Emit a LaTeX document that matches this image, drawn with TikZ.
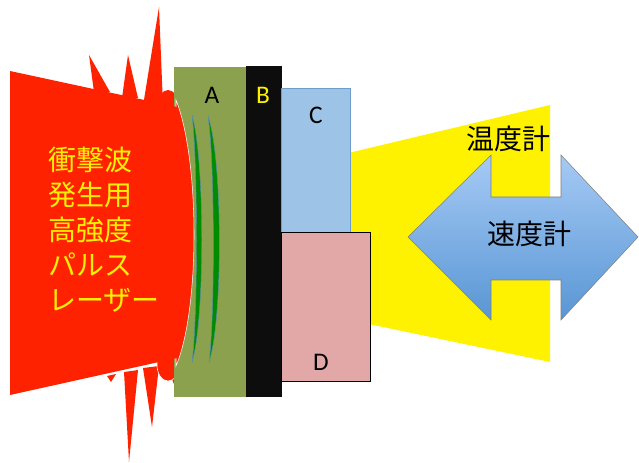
\documentclass[tikz,border=0pt]{standalone}
\usepackage{fontspec}
\setmainfont{Carlito}
\newfontfamily\jpfont{Noto Sans CJK JP}
\usepackage{tikz}

\definecolor{laserred}{RGB}{255,34,0}
\definecolor{layerA}{RGB}{139,161,77}
\definecolor{layerB}{RGB}{13,13,13}
\definecolor{layerC}{RGB}{157,195,230}
\definecolor{layerD}{RGB}{226,168,168}
\definecolor{shockgreen}{RGB}{0,140,0}
\definecolor{shockedge}{RGB}{91,140,190}
\definecolor{arrowtop}{RGB}{166,202,245}
\definecolor{arrowbot}{RGB}{88,150,212}

\tikzset{
  spike/.style={fill=laserred, draw=none},
  label/.style={inner sep=0.75pt, font=\fontsize{19}{19}\selectfont},
  jplabel/.style={inner sep=0.75pt, font=\jpfont\fontsize{21}{26.25}\selectfont}
}

\begin{document}
\begin{tikzpicture}[x=0.75pt,y=0.75pt,yscale=-1,xscale=1]
    \useasboundingbox (0,0) rectangle (639,463);

    %Shape: Yellow beam
    \fill [yellow]  (340,155) -- (550,105) -- (550,362) -- (340,318) -- cycle ;

    %Shape: Spikes behind the laser
    \fill [spike]  (94,92) -- (89,55) -- (110,92) -- cycle ;
    \fill [spike]  (122,98) -- (128,55) -- (138,98) -- cycle ;
    \fill [spike]  (143,106) -- (159,7) -- (163,106) -- cycle ;
    \fill [spike]  (124,372) -- (129,462) -- (138,370) -- cycle ;
    \fill [spike]  (143,368) -- (152,427) -- (159,366) -- cycle ;
    \fill [spike]  (107,376) -- (111,382) -- (116,374) -- cycle ;
    \fill [spike]  (166,362) -- (176,390) -- (177,358) -- cycle ;
    \fill [spike]  (168,108) ellipse (11 and 18) ;
    \draw [white, fill=laserred]  (168,365) ellipse (11 and 16) ;

    %Shape: Layer A
    \fill [layerA]  (174,67) rectangle (246,397) ;
    %Shape: Layer B
    \fill [layerB]  (246,66) rectangle (282,397) ;
    %Shape: Layer C
    \draw [shockedge!70!layerC, fill=layerC]  (281,88) rectangle (350,232) ;
    %Shape: Layer D
    \draw [black, fill=layerD]  (281,232) rectangle (370,381) ;

    %Shape: Laser bulge
    \draw [white, fill=laserred]  (176,100) .. controls (200,160) and (200,310) .. (176,366) -- cycle ;
    %Shape: Laser beam
    \fill [laserred]  (10,71) -- (177,107) -- (177,358) -- (10,395) -- cycle ;

    %Curve Lines: shock fronts
    \draw [shockedge, fill=shockgreen, line width=0.3pt]  (192,115) .. controls (205,160) and (205,320) .. (192,362) .. controls (198,320) and (198,160) .. cycle ;
    \draw [shockedge, fill=shockgreen, line width=0.3pt]  (208,116) .. controls (223,160) and (223,320) .. (209,362) .. controls (215,320) and (215,160) .. cycle ;

    %Shape: Double arrow
    \draw [gray, top color=arrowtop, bottom color=arrowbot]  (408,237) -- (491,155) -- (491,197) -- (561,197) -- (561,155) -- (638,237) -- (561,320) -- (561,280) -- (491,280) -- (491,320) -- cycle ;

    % Text Node
    \draw (47,230) node [anchor=west][jplabel, text=yellow, align=left] (laser) {衝撃波\\発生用\\高強度\\パルス\\レーザー};
    % Text Node
    \draw (212,95) node [label] (lblA) {A};
    % Text Node
    \draw (263,95) node [label, text=yellow] (lblB) {B};
    % Text Node
    \draw (316,115) node [label] (lblC) {C};
    % Text Node
    \draw (321,362) node [label] (lblD) {D};
    % Text Node
    \draw (508,139) node [jplabel] (thermo) {温度計};
    % Text Node
    \draw (529,234) node [jplabel] (velo) {速度計};

\end{tikzpicture}
\end{document}
